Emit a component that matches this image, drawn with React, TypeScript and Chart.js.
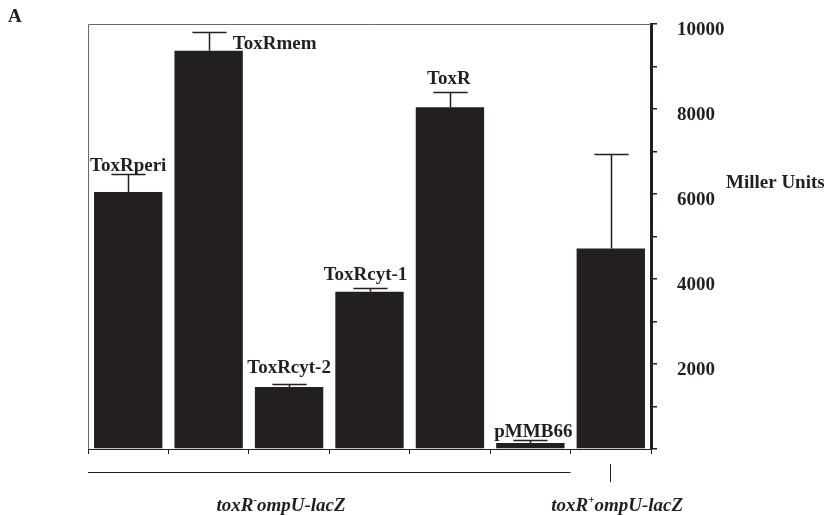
import React, { useEffect, useRef } from 'react';
import { Chart, registerables } from 'chart.js';

Chart.register(...registerables);

// ---- data ----
const categories = ['ToxRperi', 'ToxRmem', 'ToxRcyt-2', 'ToxRcyt-1', 'ToxR', 'pMMB66', ''];
const millerUnits = [6050, 9370, 1460, 3700, 8040, 140, 4720];
const errorUpper = [420, 440, 70, 100, 350, 75, 2210];
const yTickLabels = ['2000', '4000', '6000', '8000', '10000'];
const groupNames = ['toxR', 'toxR'];
const groupSup = ['-', '+'];
const groupSuffix = ['ompU-lacZ', 'ompU-lacZ'];
const yTitle = 'Miller Units';
const panelLetter = 'A';

// ---- styles ----
const INK = '#231f20';
const FONT = "'Liberation Serif', 'Times New Roman', serif";
// label placement relative to each bar: mode, dx, dy (px)
const labelStyle = [
  { mode: 'center', dx: 0, dy: -3 },
  { mode: 'right-of', dx: -10, dy: 2 },
  { mode: 'center', dx: 0, dy: -11 },
  { mode: 'center', dx: -4, dy: -8 },
  { mode: 'center', dx: -1, dy: -8 },
  { mode: 'center', dx: 3, dy: -3 },
  { mode: 'none', dx: 0, dy: 0 },
];
const groupCenter = [1.9, 6.08]; // in category-index units

const annotate = {
  id: 'annotate',
  afterDatasetsDraw(chart: any) {
    const ctx = chart.ctx;
    const xs = chart.scales.x;
    const ys = chart.scales.y;
    const area = chart.chartArea;
    const meta = chart.getDatasetMeta(0);
    ctx.save();

    // frame (top & left)
    ctx.strokeStyle = '#6b6869';
    ctx.lineWidth = 1;
    ctx.beginPath();
    ctx.moveTo(area.left + 0.5, area.bottom);
    ctx.lineTo(area.left + 0.5, area.top + 0.5);
    ctx.lineTo(area.right, area.top + 0.5);
    ctx.stroke();

    // error bars
    ctx.strokeStyle = INK;
    ctx.lineWidth = 1.5;
    millerUnits.forEach((v, i) => {
      const bar = meta.data[i];
      const x = Math.round(bar.x) + 0.5;
      const yb = ys.getPixelForValue(v);
      const yt = Math.round(ys.getPixelForValue(v + errorUpper[i])) + 0.5;
      const half = bar.width / 4;
      ctx.beginPath();
      ctx.moveTo(x, yb);
      ctx.lineTo(x, yt);
      ctx.moveTo(x - half, yt);
      ctx.lineTo(x + half, yt);
      ctx.stroke();
    });

    // bar labels
    ctx.fillStyle = INK;
    ctx.font = `bold 19px ${FONT}`;
    categories.forEach((c, i) => {
      const st = labelStyle[i];
      if (!c || st.mode === 'none') return;
      const bar = meta.data[i];
      if (st.mode === 'center') {
        const yt = ys.getPixelForValue(millerUnits[i] + errorUpper[i]);
        ctx.textAlign = 'center';
        ctx.textBaseline = 'alphabetic';
        ctx.fillText(c, bar.x + st.dx, yt + st.dy);
      } else {
        const ytop = ys.getPixelForValue(millerUnits[i]);
        ctx.textAlign = 'left';
        ctx.textBaseline = 'middle';
        ctx.fillText(c, bar.x + bar.width / 2 + st.dx, ytop - 9 + st.dy);
      }
    });

    // y title
    ctx.textAlign = 'left';
    ctx.textBaseline = 'middle';
    ctx.fillText(yTitle, area.right + 75, ys.getPixelForValue(6250));

    // panel letter
    ctx.fillText(panelLetter, 8, 17);

    // group annotation below axis
    const step = xs.getPixelForValue(1) - xs.getPixelForValue(0);
    const lineY = area.bottom + 23.5;
    ctx.strokeStyle = INK;
    ctx.lineWidth = 1;
    ctx.beginPath();
    ctx.moveTo(area.left, lineY);
    ctx.lineTo(xs.getPixelForValue(5) + step / 2, lineY);
    const vx = Math.round(xs.getPixelForValue(6)) - 0.5;
    ctx.moveTo(vx, area.bottom + 15);
    ctx.lineTo(vx, area.bottom + 33);
    ctx.stroke();

    groupNames.forEach((g, k) => {
      const main = `bold italic 19px ${FONT}`;
      const sup = `bold 11px ${FONT}`;
      ctx.font = main;
      const w1 = ctx.measureText(g).width;
      const w3 = ctx.measureText(groupSuffix[k]).width;
      ctx.font = sup;
      const w2 = ctx.measureText(groupSup[k]).width;
      const total = w1 + w2 + w3;
      const cx = xs.getPixelForValue(0) + step * groupCenter[k];
      let x = cx - total / 2;
      const by = area.bottom + 62;
      ctx.textAlign = 'left';
      ctx.textBaseline = 'alphabetic';
      ctx.font = main;
      ctx.fillText(g, x, by);
      x += w1;
      ctx.font = sup;
      ctx.fillText(groupSup[k], x, by - 8);
      x += w2;
      ctx.font = main;
      ctx.fillText(groupSuffix[k], x, by);
    });

    ctx.restore();
  },
};

export default function App() {
  const ref = useRef<HTMLCanvasElement>(null);
  useEffect(() => {
    if (!ref.current) return;
    const chart = new Chart(ref.current, {
      type: 'bar',
      data: {
        labels: categories,
        datasets: [
          {
            data: millerUnits,
            backgroundColor: INK,
            borderWidth: 0,
            barPercentage: 0.85,
            categoryPercentage: 1,
          },
        ],
      },
      options: {
        animation: false,
        responsive: false,
        events: [],
        layout: { padding: { left: 88, top: 24, right: 0, bottom: 0 } },
        plugins: { legend: { display: false }, tooltip: { enabled: false }, title: { display: false } },
        scales: {
          x: {
            type: 'category',
            offset: true,
            grid: { offset: true, drawOnChartArea: false, tickLength: 5, color: INK, lineWidth: 1 },
            border: { color: INK, width: 1 },
            ticks: { display: false },
            afterFit: (s: any) => {
              s.height = 66;
              s.paddingLeft = 0;
              s.paddingRight = 0;
            },
          },
          y: {
            position: 'right',
            min: 0,
            max: 10000,
            grid: { drawOnChartArea: false, tickLength: 6, color: INK, lineWidth: 1.5 },
            border: { color: INK, width: 3 },
            ticks: {
              stepSize: 1000,
              padding: 20,
              labelOffset: 6,
              color: INK,
              font: { family: FONT, size: 19, weight: 'bold' },
              callback: (v: any) => {
                const s = String(v);
                return yTickLabels.includes(s) ? s : '';
              },
            },
            afterFit: (s: any) => {
              s.width = 173;
              s.paddingTop = 0;
              s.paddingBottom = 0;
            },
          },
        },
      },
      plugins: [annotate],
    });
    return () => chart.destroy();
  }, []);
  return (
    <div style={{ position: 'absolute', left: 0, top: 0, width: 824, height: 515, background: '#fff' }}>
      <canvas ref={ref} width={824} height={515} />
    </div>
  );
}
